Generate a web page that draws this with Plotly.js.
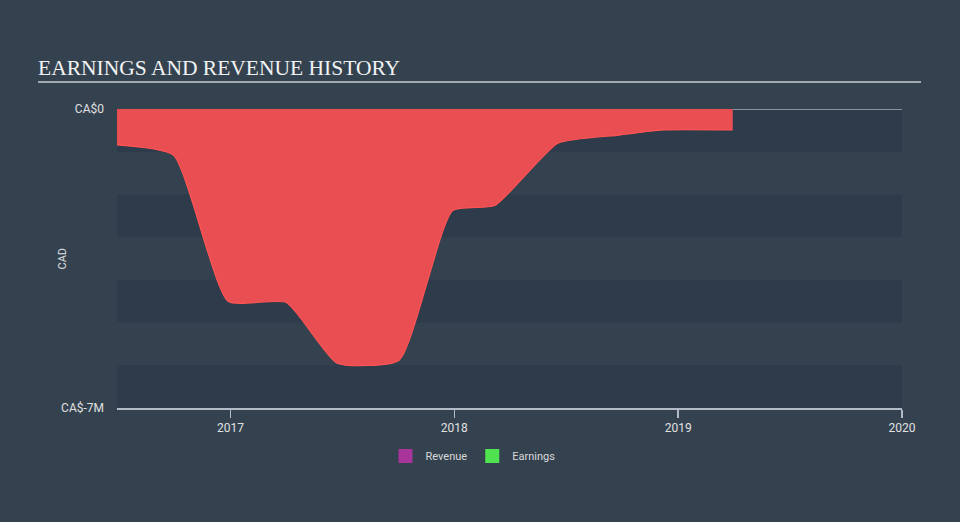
<!DOCTYPE html>
<html>
<head>
<meta charset="utf-8">
<script src="https://cdn.plot.ly/plotly-3.0.1.min.js"></script>
<style>html,body{margin:0;padding:0;background:#344250;}#chart{width:960px;height:522px;}</style>
</head>
<body>
<div id="chart"></div>
<script>
// Earnings history (CAD)
const earningsDates = ['2016-06-30','2016-09-30','2016-12-28','2017-04-02','2017-06-24','2017-10-03','2017-12-29','2018-03-08','2018-06-19','2018-09-27','2018-12-07','2019-03-31'];
const earningsValues = [-840000,-1080000,-4500000,-4530000,-5950000,-5880000,-2380000,-2260000,-800000,-610000,-490000,-490000];
// Revenue (zero line shown after last earnings point)
const revenueDates = ['2019-03-31','2020-01-01'];
const revenueValues = [0,0];
const yTickVals = [0,-7000000];
const yTickText = ['CA$0','CA$-7M'];
const xTickVals = ['2017-01-01','2018-01-01','2019-01-01','2020-01-01'];
const xTickText = ['2017','2018','2019','2020'];
const bandEdges = [[0,-1000000],[-2000000,-3000000],[-4000000,-5000000],[-6000000,-7000000]];

const traces = [
  {x: earningsDates, y: earningsValues, type:'scatter', mode:'lines', fill:'tozeroy',
   fillcolor:'#e94f52', line:{color:'#ff5454', width:1.2, shape:'spline', smoothing:0.5},
   showlegend:false, hoverinfo:'skip'},
  {x: revenueDates, y: revenueValues, type:'scatter', mode:'lines',
   line:{color:'#a9b0b8', width:1.5}, showlegend:false, hoverinfo:'skip'},
  {x:[null], y:[null], type:'scatter', mode:'markers', name:'Revenue',
   marker:{symbol:'square', size:14, color:'#a8359b'}},
  {x:[null], y:[null], type:'scatter', mode:'markers', name:'Earnings',
   marker:{symbol:'square', size:14, color:'#4fe34f'}}
];

const shapes = bandEdges.map(b => ({type:'rect', xref:'paper', yref:'y', x0:0, x1:1, y0:b[0], y1:b[1],
  fillcolor:'#2e3b4a', line:{width:0}, layer:'below'}));
shapes.push({type:'line', xref:'paper', yref:'paper', x0:(38-117)/785, x1:(921-117)/785,
  y0:(408-82)/299, y1:(408-82)/299, line:{color:'#a3a9b0', width:2}});

const layout = {
  width:960, height:522,
  margin:{l:117, r:58, t:109, b:114},
  paper_bgcolor:'#344250', plot_bgcolor:'rgba(0,0,0,0)',
  title:{text:'EARNINGS AND REVENUE HISTORY', x:38/960, xanchor:'left', xref:'container',
    y:1-67/522, yanchor:'middle', yref:'container',
    font:{family:'Liberation Serif, Times New Roman, serif', size:21.5, color:'#f2f2f2'}},
  xaxis:{type:'date', range:['2016-06-30','2020-01-01'], tickvals:xTickVals, ticktext:xTickText,
    showgrid:false, zeroline:false, showline:true, linecolor:'#b3bcc6', linewidth:1.5,
    ticks:'outside', ticklen:8, tickcolor:'#b3bcc6', tickwidth:1.5,
    tickfont:{family:'Roboto, Arial, sans-serif', size:12, color:'#e0e0e0'}, fixedrange:true},
  yaxis:{range:[-7000000,0], tickvals:yTickVals, ticktext:yTickText,
    showgrid:false, zeroline:false, showline:false, ticks:'', ticklen:0, ticklabelstandoff:12,
    tickfont:{family:'Roboto, Arial, sans-serif', size:12, color:'#e0e0e0'}, fixedrange:true},
  shapes: shapes,
  annotations:[{text:'CAD', xref:'paper', yref:'paper', x:(62-117)/785, y:0.5, textangle:-90,
    showarrow:false, xanchor:'center', yanchor:'middle',
    font:{family:'Roboto, Arial, sans-serif', size:11, color:'#e0e0e0'}}],
  legend:{orientation:'h', x:(473-117)/785, xanchor:'center', y:(408-456)/299, yanchor:'middle',
    font:{family:'Roboto, Arial, sans-serif', size:11, color:'#d8d8d8'}, bgcolor:'rgba(0,0,0,0)',
    itemwidth:30, tracegroupgap:10},
  showlegend:true
};

Plotly.newPlot('chart', traces, layout, {displayModeBar:false, staticPlot:true});
</script>
</body>
</html>
